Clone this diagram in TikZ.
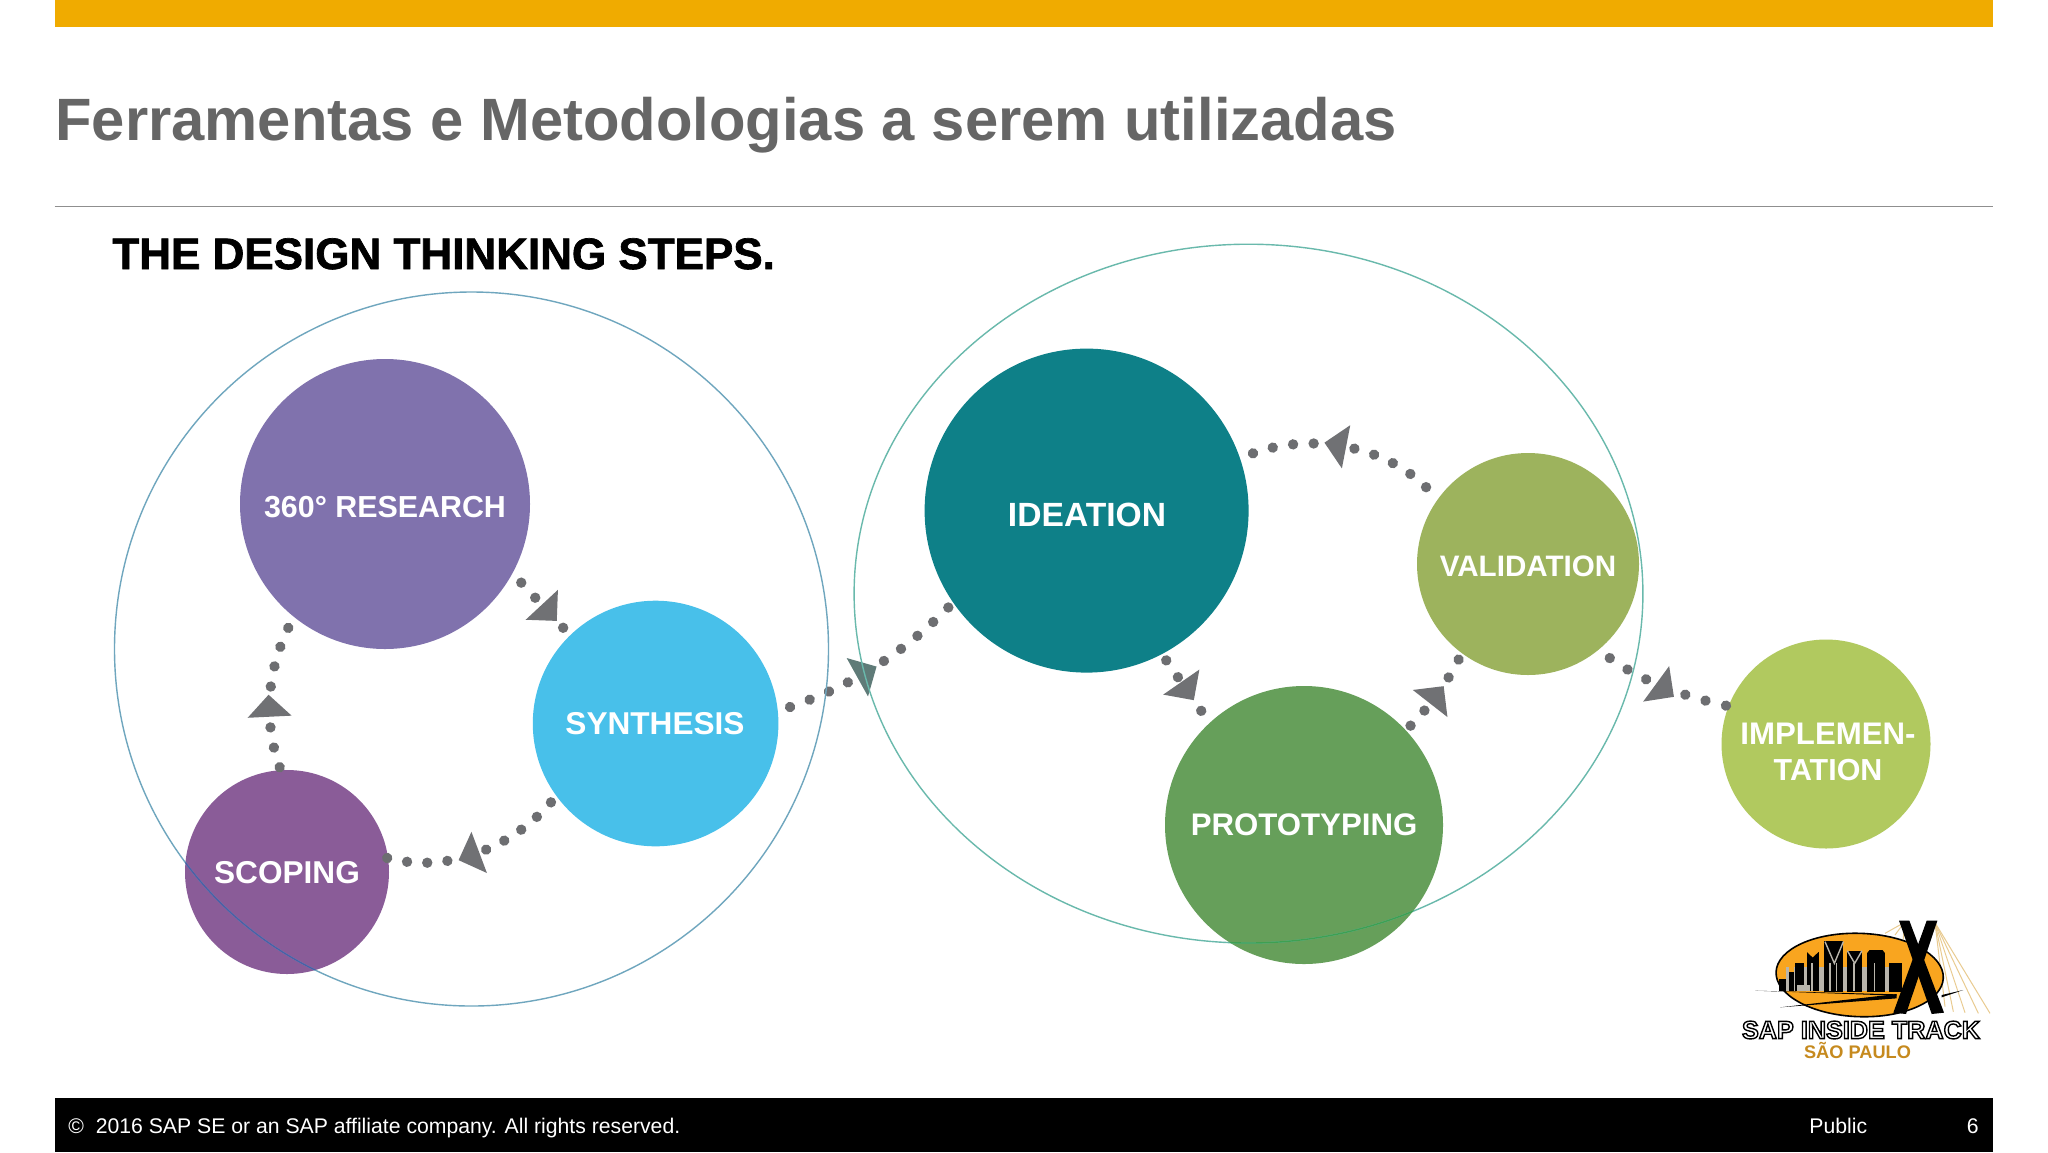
\documentclass[tikz,border=0pt]{standalone}
\usepackage{fontspec}
\setmainfont{Liberation Sans}
\usetikzlibrary{calc,decorations.markings}
\definecolor{barY}{HTML}{F0AB00}
\definecolor{titleG}{HTML}{666666}
\definecolor{ruleG}{HTML}{8F8F8F}
\definecolor{dotG}{HTML}{6D6E71}
\definecolor{triG}{HTML}{707174}
\definecolor{triT}{HTML}{5F7B78}
\definecolor{cRes}{HTML}{8072AD}
\definecolor{cSyn}{HTML}{48C0EA}
\definecolor{cSco}{HTML}{8A5C98}
\definecolor{cIde}{HTML}{0E8088}
\definecolor{cVal}{HTML}{9DB35D}
\definecolor{cPro}{HTML}{669F5A}
\definecolor{cImp}{HTML}{B1C95F}
\definecolor{ringA}{HTML}{6FA6BE}
\definecolor{ringB}{HTML}{69B9AC}
\definecolor{ringAin}{HTML}{4B5EA6}
\definecolor{ringBin}{HTML}{3EA052}
\definecolor{logoO}{HTML}{F9A51F}
\definecolor{logoC}{HTML}{E9CB90}
\definecolor{logoT}{HTML}{C68A1E}
\definecolor{logoS}{HTML}{B9B5AC}
\tikzset{
  fsz/.style={font=\fontsize{#1pt}{#1pt}\selectfont\bfseries},
  stepcirc/.style={circle,inner sep=0pt,outer sep=0pt,minimum size=#1pt},
  steptext/.style={inner sep=0pt,outer sep=0pt,text=white,text depth=0pt,align=center},
  link/.style n args={4}{
    postaction={decorate,decoration={markings,
      mark=between positions 0 and 1 step #1 with {\fill[dotG] (0,0) circle (2.6pt);}}},
    postaction={decorate,decoration={markings,
      mark=at position #2 with {\fill[#3,rotate=#4] (0,-22) -- (22,0) -- (0,22) -- cycle;}}}},
  ring/.style={line width=0.7pt},
  foot/.style={text=white,inner sep=0pt,font=\fontsize{10.6pt}{11pt}\selectfont,anchor=base west}
}
\newcommand{\outl}[1]{\color{white}\special{pdf:code q 0.7 w 0 0 0 RG 2 Tr}#1\special{pdf:code Q}}
\newcommand{\heavy}[1]{\color{black}\special{pdf:code q 0.35 w 0 0 0 RG 2 Tr}#1\special{pdf:code Q}}
\begin{document}
\begin{tikzpicture}[x=0.5pt,y=-0.5pt]
\useasboundingbox (0,0) rectangle (2048,1152);
\fill[white] (0,0) rectangle (2048,1152);
% slide frame
\fill[barY] (54.5,0) rectangle (1993,27);
\fill[black] (54.5,1098) rectangle (1993,1152);
\draw[ruleG,line width=0.7pt] (54.5,206.5) -- (1993,206.5);
\node[fsz=29.87,text=titleG,inner sep=0pt,anchor=base west] (title) at (55,140) {Ferramentas e Metodologias a serem utilizadas};
\node[fsz=22,inner sep=0pt,anchor=base west] (sub) at (112,269) {\heavy{THE DESIGN THINKING STEPS.}};
\node[foot] (copy) at (68,1133) {©\ \ 2016 SAP SE or an SAP affiliate company. All rights reserved.};
\node[foot] (pub) at (1809,1133) {Public};
\node[foot] (pnum) at (1966.5,1133) {6};
% step circles
\node[stepcirc=145,fill=cRes] (res) at (385,504) {};
\node[stepcirc=122.8,fill=cSyn] (syn) at (655.6,723.5) {};
\node[stepcirc=102,fill=cSco] (sco) at (287,872) {};
\node[stepcirc=162,fill=cIde] (ide) at (1086.6,510.6) {};
\node[stepcirc=111,fill=cVal] (val) at (1528,564) {};
\node[stepcirc=139,fill=cPro] (pro) at (1304,825) {};
\node[stepcirc=104.5,fill=cImp] (imp) at (1826,744) {};
% labels
\node[steptext,fsz=15.2] (resT) at (385,507) {360° RESEARCH};
\node[steptext,fsz=15.8] (synT) at (655,723) {SYNTHESIS};
\node[steptext,fsz=15.8] (scoT) at (287,872) {SCOPING};
\node[steptext,fsz=16.8] (ideT) at (1087,515) {IDEATION};
\node[steptext,fsz=14.8] (valT) at (1528,566) {VALIDATION};
\node[steptext,fsz=15.6] (proT) at (1304,825) {PROTOTYPING};
\node[steptext,fsz=15.6] (impT) at (1828,734) {IMPLEMEN-};
\node[steptext,fsz=15.2] (impU) at (1828,770) {TATION};
% connectors
\path[link={.333}{.49}{triG}{0}] ($(res)!1.085!(res.330.4)$) -- ($(syn)!1.083!(syn.134.1)$);
\path[link={.111}{.39}{triT}{0}] ($(syn)!1.103!(syn.7.4)$) .. controls +(60,-21) and +(-50,50) .. ($(ide)!1.041!(ide.215.3)$);
\path[link={.111}{.485}{triG}{0}] ($(syn)!1.067!(syn.217.2)$) .. controls +(-40,46) and +(60,16) .. ($(sco)!0.99!(sco.8)$);
\path[link={.1427}{.36}{triG}{0}] ($(sco)!1.03!(sco.94)$) .. controls +(-16,-45) and +(-22,46) .. ($(res)!1.083!(res.232)$);
\path[link={.333}{.43}{triG}{0}] ($(ide)!1.047!(ide.298.3)$) -- ($(pro)!1.105!(pro.132.1)$);
\path[link={.2497}{.36}{triG}{0}] ($(pro)!1.048!(pro.43.3)$) .. controls +(15,-14) and +(-8,18) .. ($(val)!1.063!(val.234.5)$);
\path[link={.111}{.49}{triG}{0}] ($(val)!1.15!(val.143.4)$) .. controls +(-45,-44) and +(55,-20) .. ($(ide)!1.085!(ide.19.1)$);
\path[link={.1665}{.42}{triG}{-13}] ($(val)!1.123!(val.311.7)$) .. controls +(35,25) and +(-40,-9) .. ($(imp)!1.024!(imp.159.2)$);
% grouping rings
\draw[ring,ringA] (471.5,649) circle (357);
\draw[ring,ringB] (1248.5,593.6) ellipse (394.4 and 349.4);
\begin{scope}
  \clip (287,872) circle (102);
  \draw[ring,ringAin] (471.5,649) circle (357);
\end{scope}
\begin{scope}
  \clip (1304,825) circle (139);
  \draw[ring,ringBin] (1248.5,593.6) ellipse (394.4 and 349.4);
\end{scope}
% logo
\begin{scope}[shift={(1700,900)},scale=1/3]
  \foreach \ex/\ey in {870/340,835/340,795/338,760/335,735/320}
    \draw[logoC,line width=0.5pt] (705,68) -- (\ex,\ey);
  \foreach \ex/\ey in {555/100,585/105,610/118}
    \draw[logoC,line width=0.5pt] (612,68) -- (\ex,\ey);
  \fill[logoO,draw=black,line width=0.8pt,rotate around={-2:(479,225)}] (479,225) ellipse (251 and 125);
  \foreach \xa/\ya/\xb/\yb in {238/238/258/272,268/215/282/272,286/190/312/272,320/155/356/272,372/122/430/275,442/152/486/275,500/150/556/275,566/190/606/275}
    \fill[black] (\xa,\ya) rectangle (\xb,\yb);
  \fill[logoO] (320,155) -- (356,155) -- (338,172) -- cycle;
  \fill[logoO] (500,150) -- (508,150) -- (500,160) -- cycle;
  \fill[logoO] (556,150) -- (548,150) -- (556,160) -- cycle;
  \foreach \xa/\xb in {258/268,282/286,312/320,356/372,430/442,486/500,556/566}
    \fill[logoS] (\xa,200) rectangle (\xb,272);
  \foreach \xa/\xb in {334/338,388/392,408/412,460/464,522/526}
    \fill[logoS] (\xa,190) rectangle (\xb,272);
  \fill[logoS] (290,255) rectangle (330,272);
  \draw[logoS,line width=0.7pt] (375,125) -- (403,190) -- (430,125);
  \draw[logoS,line width=0.7pt] (442,152) -- (464,190) -- (486,152);
  \fill[black] (165,272) -- (590,283) -- (590,287) -- cycle;
  \fill[black] (240,322) -- (590,282) -- (590,295) -- cycle;
  \fill[black] (597,62) -- (628,62) -- (732,338) -- (695,342) -- cycle;
  \fill[black] (680,62) -- (712,62) -- (618,342) -- (580,338) -- cycle;
  \fill[black] (725,285) -- (790,270) -- (725,292) -- cycle;
\end{scope}
\node[inner sep=0pt,fsz=12.6] (logoA) at (1861,1030) {\outl{SAP INSIDE TRACK}};
\node[inner sep=0pt,fsz=9.1,text=logoT] (logoB) at (1857.5,1050) {SÃO PAULO};
\end{tikzpicture}
\end{document}
